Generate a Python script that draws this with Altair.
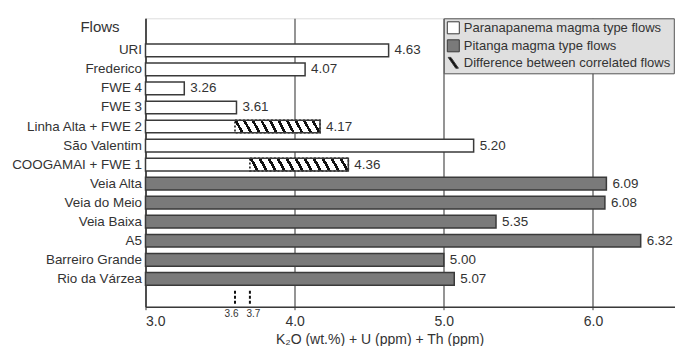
import altair as alt
import pandas as pd

# ---------------- data ----------------
flows = ["URI", "Frederico", "FWE 4", "FWE 3", "Linha Alta + FWE 2", "São Valentim",
         "COOGAMAI + FWE 1", "Veia Alta", "Veia do Meio", "Veia Baixa", "A5",
         "Barreiro Grande", "Rio da Várzea"]
totals = [4.63, 4.07, 3.26, 3.61, 4.17, 5.20, 4.36, 6.09, 6.08, 5.35, 6.32, 5.00, 5.07]
magma = ["Paranapanema magma type flows"] * 7 + ["Pitanga magma type flows"] * 6
legend_items = ["Paranapanema magma type flows", "Pitanga magma type flows",
                "Difference between correlated flows"]
hatch_flows = ["Linha Alta + FWE 2", "COOGAMAI + FWE 1"]
hatch_start = [3.6, 3.7]
hatch_end = [4.17, 4.36]
hatch_labels = ["3.6", "3.7"]
x_ticks = [3.0, 4.0, 5.0, 6.0]
x_min, x_max = 3.0, 6.55

# ---------------- layout / style ----------------
PAD_L, PAD_T = 137.5, 10.3
W, H = 529.5, 288.4          # svg = 667 x 338 (fits the page exactly)
SVG_H = 338
PX = W / (x_max - x_min)
FONT = "Liberation Sans"
TXT = "#333333"
BG = "#dfdfdf"
DARK = "#3a3a3a"
GRID = "#4d4d4d"

# blank slots above and below the flows (empty rows of the figure)
y_domain = [" "] + flows + ["  "]
P_IN, P_OUT, ALIGN = 0.333, 0.24, 0.73

bars = pd.DataFrame({"flow": flows, "total": totals, "magma": magma,
                     "start": x_min, "label": [f"{v:.2f}" for v in totals]})
hatch = pd.DataFrame({"flow": hatch_flows, "start": hatch_start, "end": hatch_end})
marks = pd.DataFrame({"v": hatch_start, "lab": hatch_labels})
legend_df = pd.DataFrame({"magma": legend_items})

xscale = alt.Scale(domain=[x_min, x_max], nice=False, zero=False)
yscale = alt.Scale(domain=y_domain, paddingInner=P_IN, paddingOuter=P_OUT, align=ALIGN)
step = H / (len(y_domain) - P_IN + 2 * P_OUT)
bar_h = step * (1 - P_IN)


def hatch_gradient(w_px, h_px, period=8.6):
    d = 7.0 * h_px / (13.0 * w_px)
    n = max(1, round(w_px / period))
    hw = 0.17 / n
    stops = [alt.GradientStop(offset=0, color="white")]
    for i in range(n):
        c = (i + 0.5) / n
        stops += [alt.GradientStop(offset=c - hw, color="white"),
                  alt.GradientStop(offset=c - hw, color="#111111"),
                  alt.GradientStop(offset=c + hw, color="#111111"),
                  alt.GradientStop(offset=c + hw, color="white")]
    stops.append(alt.GradientStop(offset=1, color="white"))
    return alt.LinearGradient(gradient="linear", stops=stops,
                              x1=0, y1=0.5 + d / 2, x2=1, y2=0.5 - d / 2)


x_enc = alt.X("start:Q", scale=xscale, axis=alt.Axis(
    values=x_ticks, format=".1f", grid=True, gridColor=GRID, gridWidth=1.2,
    domainColor=DARK, domainWidth=1.5, tickColor=DARK, tickSize=3,
    labelFontSize=14, labelColor=TXT, labelPadding=5, labelFont=FONT,
    title="K₂O (wt.%) + U (ppm) + Th (ppm)", titleFontSize=14, titleFontWeight="normal",
    titleColor=TXT, titleFont=FONT, titleX=234, titleY=36.5, titleAlign="center",
    titleBaseline="alphabetic"))
y_enc = alt.Y("flow:N", scale=yscale, sort=y_domain, axis=alt.Axis(
    ticks=False, domain=True, domainColor=DARK, domainWidth=1.5, grid=False,
    labelFontSize=13.4, labelColor=TXT, labelPadding=4, labelFont=FONT,
    title="Flows", titleAngle=0, titleX=-46, titleY=8, titleAlign="center",
    titleBaseline="middle", titleFontSize=15, titleFontWeight="normal",
    titleColor=TXT, titleFont=FONT))


def make_legend():
    return alt.Legend(
        title=None, orient="none", legendX=(5.0 - x_min) * PX, legendY=0,
        fillColor=BG, strokeColor="#555555", padding=3, rowPadding=1,
        labelFontSize=13, labelColor=TXT, labelFont=FONT, labelOffset=4, labelLimit=400,
        symbolSize=144, symbolStrokeColor=DARK, symbolStrokeWidth=1)


fill_scale = alt.Scale(domain=legend_items, range=["#ffffff", "#7a7a7a", "#111111"])
shape_scale = alt.Scale(domain=legend_items,
                        range=["square", "square", "M-0.85,-0.9L-0.4,-0.9L0.85,0.9L0.4,0.9Z"])

fill_layer = alt.Chart(bars).mark_bar(strokeWidth=0).encode(
    x=x_enc, x2="total:Q", y=y_enc,
    fill=alt.Fill("magma:N", scale=fill_scale, legend=make_legend()))

# legend-only layer (no rows drawn)
legend_layer = alt.Chart(legend_df).transform_filter("false").mark_point(
    filled=True, stroke=DARK, strokeWidth=1, opacity=1).encode(
    x=alt.X("start:Q", scale=xscale), y=alt.Y("flow:N", scale=yscale),
    fill=alt.Fill("magma:N", scale=fill_scale, legend=make_legend()),
    shape=alt.Shape("magma:N", scale=shape_scale, legend=make_legend()))

hatch_layers = []
for f, s, e in zip(hatch_flows, hatch_start, hatch_end):
    g = hatch_gradient((e - s) * PX, bar_h)
    hatch_layers.append(
        alt.Chart(hatch).transform_filter(alt.datum.flow == f).mark_bar(
            fill=g, stroke="#111111", strokeWidth=1.5, strokeDash=[2, 2]).encode(
            x=alt.X("start:Q", scale=xscale), x2="end:Q", y=alt.Y("flow:N", scale=yscale)))

outline_layer = alt.Chart(bars).mark_bar(fill="transparent", stroke=DARK, strokeWidth=1.5).encode(
    x=alt.X("start:Q", scale=xscale), x2="total:Q", y=alt.Y("flow:N", scale=yscale))

value_text = alt.Chart(bars).mark_text(align="left", baseline="middle", dx=6, fontSize=13.4,
                                       color=TXT, font=FONT).encode(
    x=alt.X("total:Q", scale=xscale), y=alt.Y("flow:N", scale=yscale), text="label:N")

dash_rules = alt.Chart(marks).mark_rule(color="#111111", strokeWidth=2, strokeDash=[3, 2]).encode(
    x=alt.X("v:Q", scale=xscale), y=alt.value(H - 16), y2=alt.value(H - 1))

dash_text_l = alt.Chart(marks).transform_filter(alt.datum.lab == hatch_labels[0]).mark_text(
    fontSize=10, color=TXT, font=FONT, baseline="middle", align="right", dx=3.5).encode(
    x=alt.X("v:Q", scale=xscale), y=alt.value(H + 7.5), text="lab:N")
dash_text_r = alt.Chart(marks).transform_filter(alt.datum.lab == hatch_labels[1]).mark_text(
    fontSize=10, color=TXT, font=FONT, baseline="middle", align="left", dx=-3.5).encode(
    x=alt.X("v:Q", scale=xscale), y=alt.value(H + 7.5), text="lab:N")

chart = alt.layer(fill_layer, *hatch_layers, outline_layer, value_text, dash_rules,
                  dash_text_l, dash_text_r, legend_layer).properties(
    width=W, height=H,
    padding={"left": PAD_L, "top": PAD_T, "right": 0, "bottom": SVG_H - PAD_T - H},
    autosize=alt.AutoSizeParams(type="none"),
    background="white",
).configure_view(fill=BG, stroke="#555555", strokeWidth=1.5).configure(font=FONT)

chart.save("out.html", embed_options={"renderer": "svg", "actions": False})
